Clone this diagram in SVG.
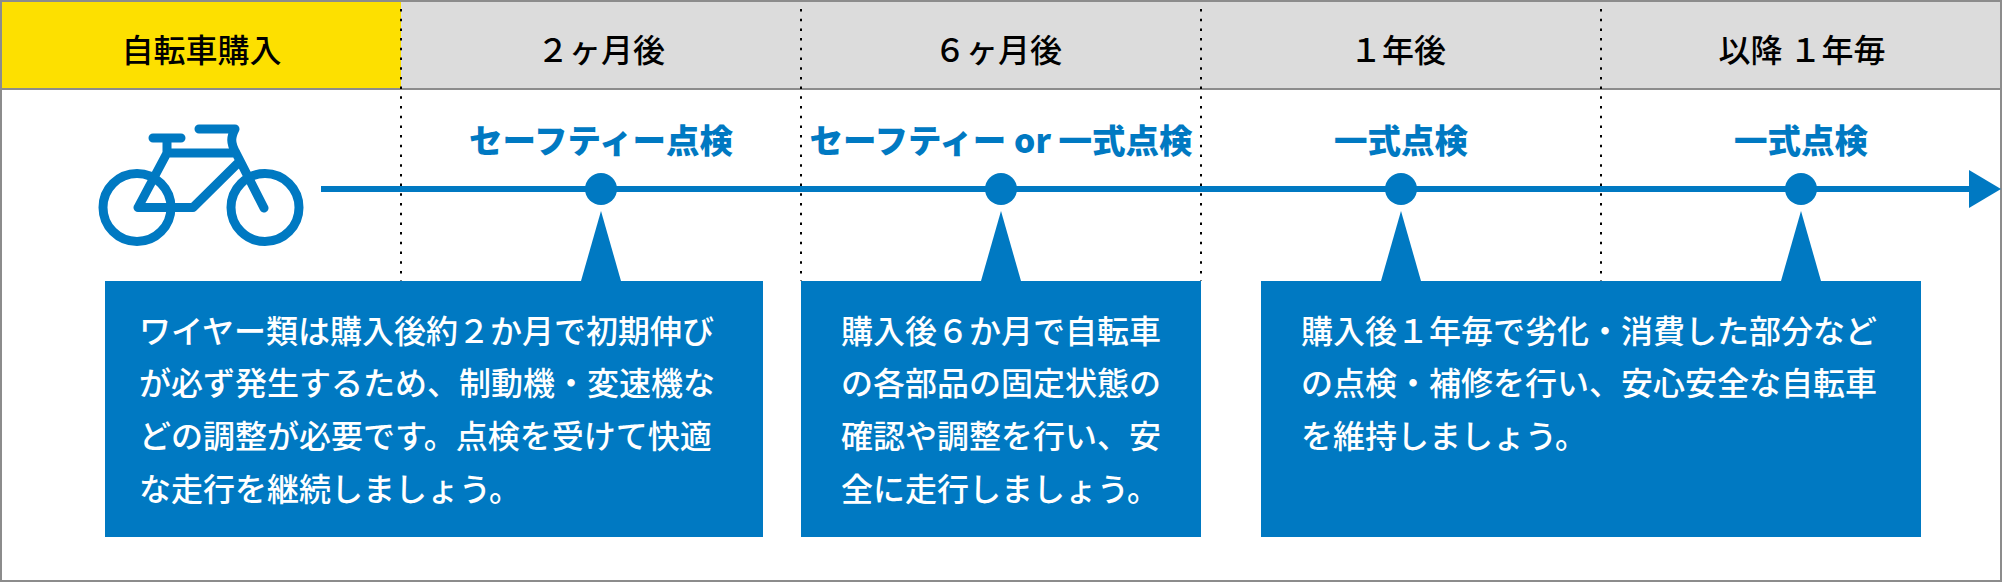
<svg xmlns="http://www.w3.org/2000/svg" width="2002" height="582" viewBox="0 0 2002 582">
<style>
.h{font:500 32px "Noto Sans CJK JP","Noto Sans",sans-serif;fill:#000;text-anchor:middle}
.t{font:900 33.5px "Noto Sans CJK JP","Noto Sans",sans-serif;fill:#0079c2;text-anchor:middle}
.b{font:500 32px "Noto Sans CJK JP","Noto Sans",sans-serif;fill:#fff}
.d{stroke:#000;stroke-width:2;stroke-dasharray:2.5 7.2;fill:none}
.f{fill:#0079c2}
.w{fill:none;stroke:#0079c2;stroke-width:9;stroke-linecap:round;stroke-linejoin:round}
</style>
<g id="frame">
<rect x="1" y="1" width="2000" height="580" fill="#fff" stroke="#8c8c8c" stroke-width="2"/>
<rect x="401" y="2" width="1599" height="86" fill="#dcdcdc"/>
<rect x="2" y="2" width="399" height="86" fill="#fde000"/>
<rect x="0" y="88" width="2002" height="2" fill="#8c8c8c"/>
</g>
<g id="headers">
<text class="h" x="201.500" y="62">自転車購入</text>
<text class="h" x="601" y="62">２ヶ月後</text>
<text class="h" x="998" y="62">６ヶ月後</text>
<text class="h" x="1398" y="62">１年後</text>
<text class="h" x="1802" y="62">以降 １年毎</text>
</g>
<g id="timeline">
<rect class="f" x="321" y="186" width="1650" height="6"/>
<path class="f" d="M1969 170L2001 189L1969 208Z"/>
</g>
<g id="dividers">
<path class="d" d="M401 9V281M801 9V281M1201 9V281M1601 9V281"/>
</g>
<g id="bicycle">
<circle class="w" cx="137" cy="207.500" r="34"/>
<circle class="w" cx="265" cy="207.500" r="34"/>
<path class="w" d="M138 207.500H193L238 163M138 207.500L167 153H232M167 153V138M153 138H181M199 129H235C231 137 230 142 236 153L264 208"/>
</g>
<g id="point-1">
<circle class="f" cx="601" cy="189" r="16"/>
<text class="t" x="601" y="153">セーフティー点検</text>
<path class="f" d="M601 211L621 281H581Z"/>
<rect class="f" x="105" y="281" width="658" height="256"/>
<text class="b"><tspan x="139" y="342.500">ワイヤー類は購入後約２か月で初期伸び</tspan><tspan x="139" y="395">が必ず発生するため、制動機・変速機な</tspan><tspan x="139" y="448">どの調整が必要です。点検を受けて快適</tspan><tspan x="139" y="500.500">な走行を継続しましょう。</tspan></text>
</g>
<g id="point-2">
<circle class="f" cx="1001" cy="189" r="16"/>
<text class="t" x="1001" y="153">セーフティー or 一式点検</text>
<path class="f" d="M1001 211L1021 281H981Z"/>
<rect class="f" x="801" y="281" width="400" height="256"/>
<text class="b"><tspan x="841" y="342.500">購入後６か月で自転車</tspan><tspan x="841" y="395">の各部品の固定状態の</tspan><tspan x="841" y="448">確認や調整を行い、安</tspan><tspan x="841" y="500.500">全に走行しましょう。</tspan></text>
</g>
<g id="point-3">
<circle class="f" cx="1401" cy="189" r="16"/>
<text class="t" x="1401" y="153">一式点検</text>
<path class="f" d="M1401 211L1421 281H1381Z"/>
</g>
<g id="point-4">
<circle class="f" cx="1801" cy="189" r="16"/>
<text class="t" x="1801" y="153">一式点検</text>
<path class="f" d="M1801 211L1821 281H1781Z"/>
<rect class="f" x="1261" y="281" width="660" height="256"/>
<text class="b"><tspan x="1301" y="342.500">購入後１年毎で劣化・消費した部分など</tspan><tspan x="1301" y="395">の点検・補修を行い、安心安全な自転車</tspan><tspan x="1301" y="448">を維持しましょう。</tspan></text>
</g>
</svg>
